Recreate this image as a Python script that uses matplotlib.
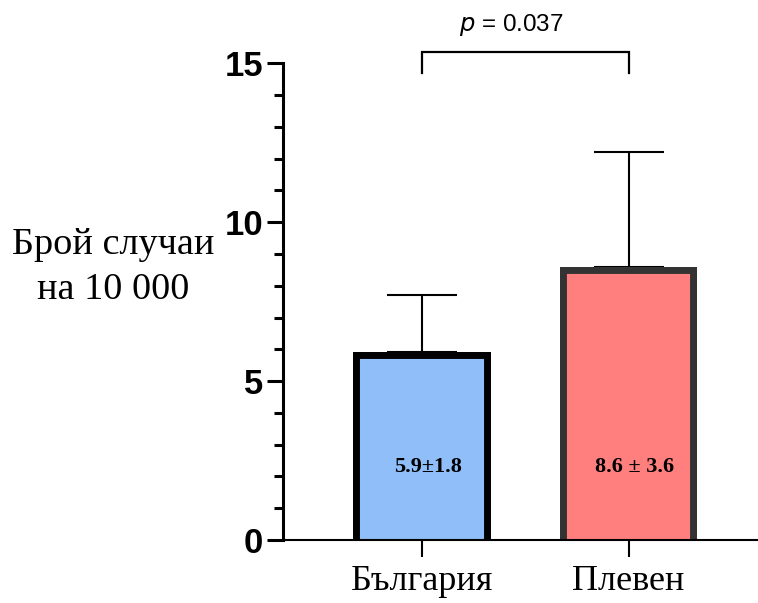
import matplotlib
matplotlib.use("Agg")
import matplotlib.pyplot as plt
from matplotlib.transforms import Bbox, TransformedBbox

categories = ["България", "Плевен"]
means = [5.9, 8.6]
sds = [1.8, 3.6]
bar_labels = ["5.9±1.8", "8.6 ± 3.6"]
y_ticks = [0, 5, 10, 15]
p_text = "$\\it{p}$ = 0.037"
ylabel = "Брой случаи\nна 10 000"

fill_colors = ["#90BEF8", "#FF7F7F"]
edge_colors = ["#000000", "#333333"]

fig = plt.figure(figsize=(7.58, 6.03), dpi=100)
ax = fig.add_axes([0.3734, 0.1045, 0.6266, 0.7905])

x = list(range(len(categories)))
width = 0.668
below = 1.0
bars = ax.bar(x, [m + below for m in means], bottom=-below, width=width,
              color=fill_colors, edgecolor=edge_colors, linewidth=10, zorder=3)
for b, xi, m in zip(bars, x, means):
    b.set_clip_box(TransformedBbox(Bbox([[xi - width / 2, 0], [xi + width / 2, m]]),
                                   ax.transData))
    b.set_clip_path(None)

ax.errorbar(x, means, yerr=[[0] * len(sds), sds], fmt="none", ecolor="black",
            elinewidth=1.5, capsize=25, capthick=1.5, zorder=2)

for xi, lab in zip(x, bar_labels):
    ax.text(xi + 0.03, 2.3, lab, ha="center", va="center", fontsize=16,
            fontweight="bold", family="Liberation Serif", zorder=4)

ax.set_xlim(-0.673, 1.627)
ax.set_ylim(0, 15)
ax.set_yticks(y_ticks)
ax.set_yticks(range(0, 16), minor=True)
ax.set_yticklabels([str(t) for t in y_ticks], fontsize=25, fontweight="bold",
                   family="Liberation Sans")
ax.set_xticks(x)
ax.set_xticklabels(categories, fontsize=26, family="Liberation Serif")

for s in ["top", "right"]:
    ax.spines[s].set_visible(False)
ax.spines["left"].set_linewidth(2.2)
ax.spines["bottom"].set_linewidth(1.5)
ax.spines["bottom"].set_zorder(5)
ax.tick_params(axis="y", which="major", length=11.5, width=2.2, pad=3)
ax.tick_params(axis="y", which="minor", length=6.5, width=2.2)
ax.tick_params(axis="x", which="major", length=12, width=1.5, pad=6)

# significance bracket
ax.plot([x[0], x[0], x[1], x[1]], [14.69, 15.35, 15.35, 14.69], color="black",
        lw=1.6, clip_on=False, solid_joinstyle="miter")
ax.text(0.43, 16.2, p_text, ha="center", va="center",
        fontsize=17.5, family="Liberation Sans", clip_on=False)

fig.text(113 / 758, 1 - 267 / 603, ylabel, ha="center", va="center",
         multialignment="center", fontsize=27.5, family="Liberation Serif",
         linespacing=1.4)

fig.savefig("out.png", dpi=100)
